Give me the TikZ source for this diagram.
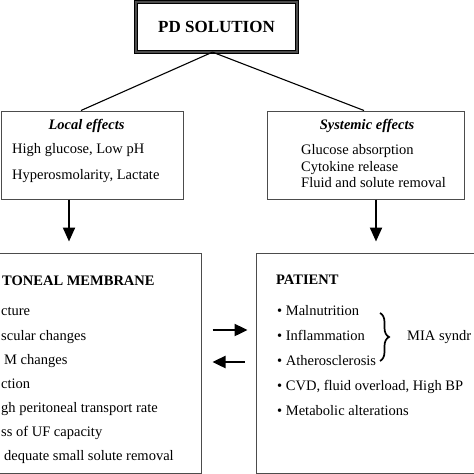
\documentclass[tikz,border=0pt]{standalone}
\usepackage{fontspec}
\setmainfont{Liberation Serif}
\usetikzlibrary{arrows.meta, decorations.pathreplacing, positioning}
\definecolor{boxgray}{gray}{0.3}

\begin{document}
\begin{tikzpicture}[x=1pt, y=-1pt]
        \tikzstyle{box}=[draw=boxgray, line width=1pt, inner sep=0pt]
        \tikzstyle{pdbox}=[draw=black, double=boxgray, double distance=2pt, line width=0.8pt, inner sep=0pt, font=\fontsize{17}{20}\selectfont\bfseries]
        \tikzstyle{txt}=[anchor=base west, inner sep=0pt, font=\fontsize{14.5}{17}\selectfont]
        \tikzstyle{head}=[anchor=base west, inner sep=0pt, font=\fontsize{14.5}{17}\selectfont\bfseries]
        \tikzstyle{title}=[anchor=base, inner sep=0pt, font=\fontsize{14.5}{17}\selectfont\bfseries\itshape]
        \tikzstyle{link}=[line width=1.1pt]
        \tikzstyle{flow}=[line width=2.2pt, -{Triangle[length=14pt,width=12pt]}]
        \tikzstyle{swap}=[line width=2.4pt, -{Triangle[length=13pt,width=12pt]}]

        \useasboundingbox (0,0) rectangle (474,474);
        \clip (0,0) rectangle (474,474);

        % Solution box
        \node (pd)[pdbox, minimum width=161pt, minimum height=49.5pt] at (216.5,27) {PD SOLUTION};

        % Effect boxes
        \node (local)[box, minimum width=182pt, minimum height=88pt] at (92,155) {};
        \node (sys)[box, minimum width=197pt, minimum height=88pt] at (365.5,155) {};

        \node[title] (localT) at (86.5,129) {Local effects};
        \node[txt] (loc1) at (12,153.5) {High glucose, Low pH};
        \node[txt] (loc2) at (12,179) {Hyperosmolarity, Lactate};

        \node[title] (sysT) at (367,129) {Systemic effects};
        \node[txt] (sys1) at (301,154.3) {Glucose absorption};
        \node[txt] (sys2) at (301,171) {Cytokine release};
        \node[txt] (sys3) at (301,187.7) {Fluid and solute removal};

        % Target boxes
        \node (memb)[box, minimum width=206pt, minimum height=220pt] at (98,363) {};
        \node (pat)[box, minimum width=224pt, minimum height=220pt] at (368,363) {};

        \node[head] (membT) at (2,285) {TONEAL MEMBRANE};
        \node[txt] (mem1) at (1,315.7) {cture};
        \node[txt] (mem2) at (1,340) {scular changes};
        \node[txt] (mem3) at (4,364) {M changes};
        \node[txt] (mem4) at (1,388) {ction};
        \node[txt] (mem5) at (1,412) {gh peritoneal transport rate};
        \node[txt] (mem6) at (1,436.7) {ss of UF capacity};
        \node[txt] (mem7) at (4,460.7) {dequate small solute removal};

        \node[head] (patT) at (276,284.3) {PATIENT};
        \node[txt] (pat1) at (277,315) {\textbullet\ Malnutrition};
        \node[txt] (pat2) at (277,340) {\textbullet\ Inflammation};
        \node[txt] (pat3) at (277,365) {\textbullet\ Atherosclerosis};
        \node[txt] (pat4) at (277,390) {\textbullet\ CVD, fluid overload, High BP};
        \node[txt] (pat5) at (277,415.7) {\textbullet\ Metabolic alterations};
        \node[txt] (mia) at (407,340) {MIA syndr};

        % Brace round the first three items
        \draw[line width=1.7pt, decorate, decoration={brace, amplitude=9pt}] (380,313) -- (380,361);

        % Connectors
        \draw[link] ([xshift=-4pt]pd.south) -- ([xshift=-11pt]local.north);
        \draw[link] ([xshift=-4pt]pd.south) -- ([xshift=-1.5pt]sys.north);
        \draw[flow] ([xshift=-23pt]local.south) -- ([xshift=-29pt, yshift=11pt]memb.north);
        \draw[flow] ([xshift=10.5pt]sys.south) -- ([xshift=8pt, yshift=11pt]pat.north);

        % Exchange between membrane and patient
        \draw[swap] ([xshift=11pt, yshift=33pt]memb.east) -- ([xshift=-8pt, yshift=33pt]pat.west);
        \draw[swap] ([xshift=-11pt, yshift=1pt]pat.west) -- ([xshift=11pt, yshift=1pt]memb.east);
\end{tikzpicture}
\end{document}
